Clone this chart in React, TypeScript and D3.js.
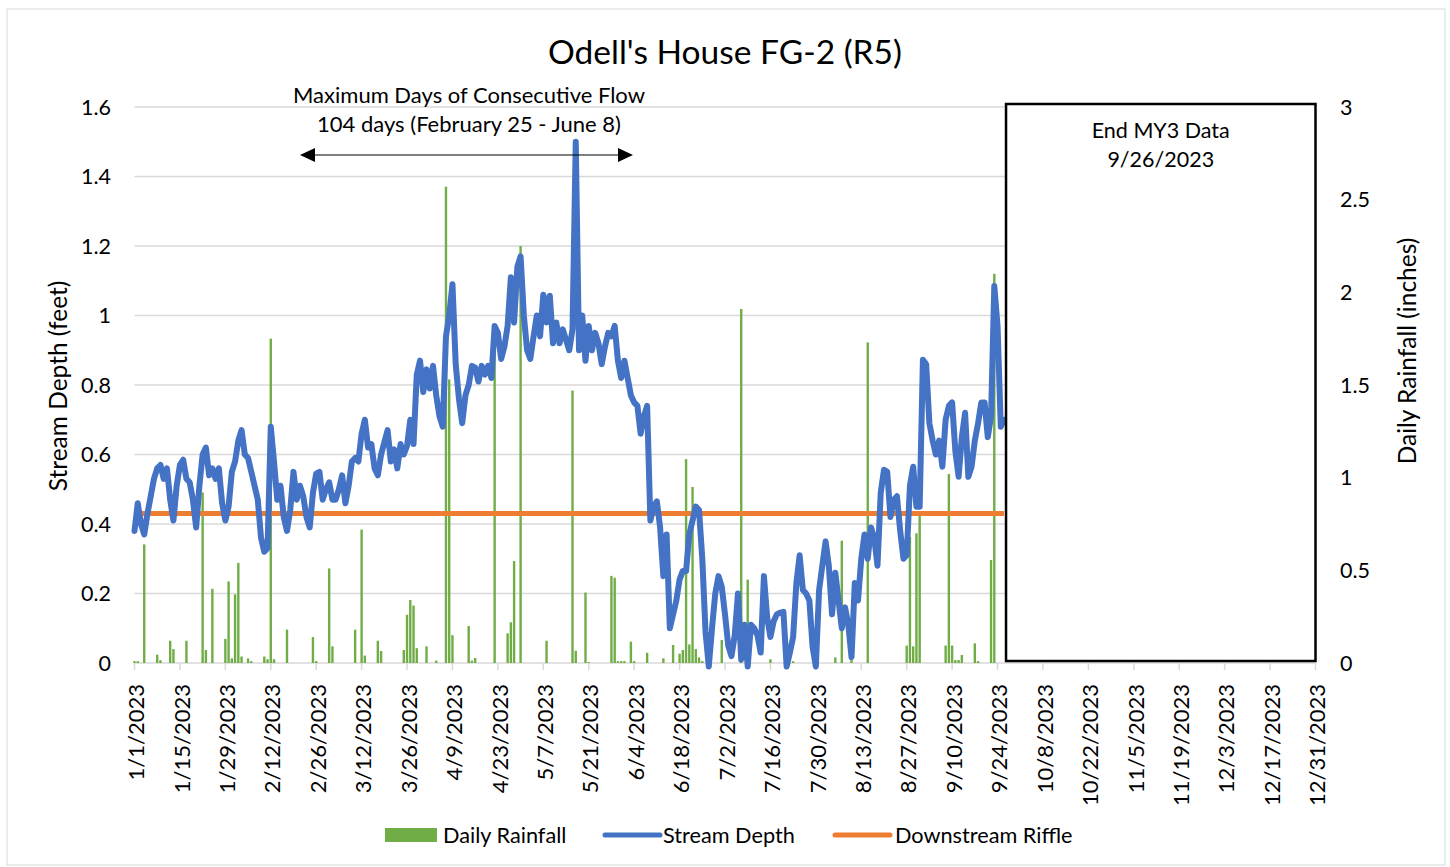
import React from "react";
import * as d3 from "d3";

const TITLE = "Odell's House FG-2 (R5)";
const START = new Date(2023, 0, 1);
const END = new Date(2023, 11, 31);

// Stream depth (feet), daily from 1/1/2023 to 9/26/2023
const streamDepth = [
  0.38,0.46,0.40,0.37,0.43,0.48,0.53,0.56,0.57,0.53,
  0.56,0.47,0.41,0.51,0.57,0.585,0.53,0.52,0.47,0.39,
  0.51,0.60,0.62,0.54,0.56,0.53,0.56,0.46,0.41,0.45,
  0.55,0.58,0.64,0.67,0.60,0.59,0.55,0.51,0.47,0.36,
  0.32,0.33,0.68,0.58,0.47,0.51,0.42,0.38,0.44,0.55,
  0.47,0.51,0.48,0.42,0.39,0.49,0.545,0.55,0.47,0.50,
  0.52,0.47,0.47,0.50,0.54,0.46,0.51,0.58,0.59,0.58,
  0.66,0.70,0.62,0.63,0.56,0.54,0.60,0.635,0.67,0.58,
  0.615,0.56,0.63,0.60,0.625,0.70,0.63,0.83,0.87,0.78,
  0.845,0.79,0.855,0.77,0.71,0.68,0.94,1.00,1.09,0.86,
  0.76,0.69,0.77,0.80,0.855,0.85,0.81,0.855,0.83,0.855,
  0.82,0.97,0.95,0.875,0.91,0.97,1.11,0.98,1.14,1.17,
  1.00,0.90,0.875,0.94,1.00,0.94,1.06,0.98,1.057,0.92,
  0.98,0.92,0.96,0.93,0.90,0.96,1.50,0.90,1.00,0.87,
  0.97,0.90,0.95,0.92,0.86,0.91,0.95,0.94,0.97,0.87,
  0.82,0.87,0.82,0.77,0.75,0.74,0.66,0.71,0.74,0.41,
  0.45,0.465,0.39,0.25,0.37,0.10,0.14,0.18,0.24,0.265,
  0.265,0.37,0.41,0.45,0.44,0.30,0.09,-0.01,0.10,0.20,
  0.25,0.22,0.14,0.05,0.02,0.08,0.20,0.01,0.11,-0.01,
  0.11,0.10,0.08,0.03,0.25,0.13,0.075,0.12,0.14,0.145,
  0.147,-0.01,0.03,0.075,0.23,0.31,0.21,0.20,0.18,0.046,
  -0.01,0.21,0.28,0.35,0.28,0.14,0.26,0.18,0.10,0.16,
  0.11,0.017,0.23,0.18,0.30,0.37,0.30,0.39,0.36,0.28,
  0.49,0.556,0.55,0.42,0.47,0.48,0.38,0.30,0.31,0.51,
  0.565,0.45,0.45,0.873,0.86,0.69,0.64,0.60,0.64,0.565,
  0.70,0.74,0.75,0.61,0.536,0.65,0.72,0.536,0.565,0.64,
  0.69,0.75,0.75,0.65,0.71,1.085,0.97,0.68,0.70,
];

// Daily rainfall (inches): day offset from 1/1/2023 and amount
const rainDay = [
  0,1,3,7,8,11,12,16,21,22,24,28,29,30,31,32,33,35,36,40,41,42,43,47,55,56,60,61,
  68,70,71,75,76,83,84,85,86,87,90,93,96,97,98,103,104,105,111,115,116,117,119,127,
  135,136,139,140,147,148,149,150,151,153,154,158,163,166,168,169,170,171,172,173,174,175,
  181,187,189,196,203,210,216,218,221,226,238,239,240,241,242,250,251,252,253,254,255,259,260,264,265,
];
const rainInches = [
  0.01,0.01,0.64,0.045,0.015,0.12,0.075,0.12,0.92,0.07,0.40,0.13,0.44,0.025,0.37,0.54,0.035,0.025,0.01,0.035,0.02,1.75,0.02,0.18,0.14,0.01,0.51,0.09,
  0.18,0.72,0.04,0.12,0.065,0.07,0.26,0.34,0.31,0.08,0.09,0.013,2.57,1.53,0.15,0.20,0.013,0.027,1.81,0.16,0.22,0.55,2.25,0.12,
  1.47,0.066,0.38,0.005,0.47,0.46,0.01,0.01,0.01,0.115,0.01,0.055,0.025,0.097,0.05,0.07,1.10,0.10,0.95,0.075,0.03,0.01,
  0.124,1.91,0.45,0.02,0.01,0.01,0.03,0.66,0.03,1.73,0.094,0.68,0.09,0.70,0.81,0.094,1.02,0.094,0.016,0.016,0.043,0.106,0.01,0.556,2.10,
];

const riffleDepth = 0.43;
const riffleEndDay = 268;

const leftTicks = [0, 0.2, 0.4, 0.6, 0.8, 1, 1.2, 1.4, 1.6];
const rightTicks = [0, 0.5, 1, 1.5, 2, 2.5, 3];
const xTickStepDays = 14;

const annotationLines = ["Maximum Days of Consecutive Flow", "104 days (February 25 - June 8)"];
const endBoxLines = ["End MY3 Data", "9/26/2023"];
const endDataDate = new Date(2023, 8, 26);

const legendItems = [
  { label: "Daily Rainfall", kind: "bar", color: "#70AD47" },
  { label: "Stream Depth", kind: "line", color: "#4472C4" },
  { label: "Downstream Riffle", kind: "line", color: "#ED7D31" },
];

const FONT = "Lato, 'Open Sans', sans-serif";

export default function App() {
  const W = 1450, H = 867;
  const left = 134.5, right = 1315.5, top = 107, bottom = 663;

  const x = d3.scaleTime().domain([START, END]).range([left, right]);
  const yL = d3.scaleLinear().domain([0, 1.6]).range([bottom, top]);
  const yR = d3.scaleLinear().domain([0, 3]).range([bottom, top]);

  const dayDate = (i: number) => d3.timeDay.offset(START, i);

  const depthPts = streamDepth.map((v, i) => ({ d: dayDate(i), v }));
  const line = d3
    .line<{ d: Date; v: number }>()
    .x((p) => x(p.d))
    .y((p) => yL(p.v));

  const xTicks = d3.range(0, 365, xTickStepDays).map(dayDate);
  const fmt = (d: Date) => `${d.getMonth() + 1}/${d.getDate()}/${d.getFullYear()}`;

  const barW = 2.4;
  const boxX1 = x(endDataDate) + 2;

  const arrowY = 155, arrowX1 = 300, arrowX2 = 633;

  return (
    <svg width={W} height={H} style={{ position: "absolute", left: 0, top: 0, background: "#fff" }} fontFamily={FONT}>
      <rect x={7} y={9} width={1438} height={856} fill="#fff" stroke="#D9D9D9" strokeWidth={1} />
      {/* gridlines */}
      {leftTicks.map((t) => (
        <line key={"g" + t} x1={left} x2={right} y1={yL(t)} y2={yL(t)} stroke="#D9D9D9" strokeWidth={1.5} />
      ))}
      {/* x ticks */}
      {xTicks.map((d, i) => (
        <line key={"xt" + i} x1={x(d)} x2={x(d)} y1={bottom} y2={bottom + 7} stroke="#D9D9D9" strokeWidth={1.5} />
      ))}
      {/* rainfall bars */}
      {rainDay.map((dd, i) => (
        <rect
          key={"r" + i}
          x={x(dayDate(dd)) - barW / 2}
          y={yR(rainInches[i])}
          width={barW}
          height={bottom - yR(rainInches[i])}
          fill="#70AD47"
        />
      ))}
      {/* riffle line */}
      <line
        x1={x(START)}
        x2={x(dayDate(riffleEndDay))}
        y1={yL(riffleDepth)}
        y2={yL(riffleDepth)}
        stroke="#ED7D31"
        strokeWidth={5}
      />
      {/* stream depth */}
      <path d={line(depthPts) || ""} fill="none" stroke="#4472C4" strokeWidth={6} strokeLinejoin="round" strokeLinecap="round" />
      {/* end box */}
      <rect x={boxX1} y={104} width={right - boxX1} height={661 - 104} fill="#fff" stroke="#000" strokeWidth={2.5} />
      {endBoxLines.map((t, i) => (
        <text key={"eb" + i} x={(boxX1 + right) / 2} y={138 + i * 29} textAnchor="middle" fontSize={21.5} fill="#000">
          {t}
        </text>
      ))}
      {/* annotation */}
      {annotationLines.map((t, i) => (
        <text key={"an" + i} x={469} y={103 + i * 29} textAnchor="middle" fontSize={22} fill="#000">
          {t}
        </text>
      ))}
      <line x1={arrowX1 + 12} x2={arrowX2 - 12} y1={arrowY} y2={arrowY} stroke="#000" strokeWidth={1.2} />
      <path d={`M${arrowX1},${arrowY} L${arrowX1 + 15},${arrowY - 7} L${arrowX1 + 15},${arrowY + 7} Z`} fill="#000" />
      <path d={`M${arrowX2},${arrowY} L${arrowX2 - 15},${arrowY - 7} L${arrowX2 - 15},${arrowY + 7} Z`} fill="#000" />
      {/* title */}
      <text x={725} y={64} textAnchor="middle" fontSize={33.5} fill="#000">
        {TITLE}
      </text>
      {/* left axis labels */}
      {leftTicks.map((t) => (
        <text key={"lt" + t} x={111} y={yL(t)} dy="0.35em" textAnchor="end" fontSize={21.5} fill="#000">
          {String(t)}
        </text>
      ))}
      {/* right axis labels */}
      {rightTicks.map((t) => (
        <text key={"rt" + t} x={1340} y={yR(t)} dy="0.35em" textAnchor="start" fontSize={21.5} fill="#000">
          {String(t)}
        </text>
      ))}
      {/* x labels */}
      {xTicks.map((d, i) => (
        <text
          key={"xl" + i}
          transform={`translate(${x(d) + 2},${684}) rotate(-90)`}
          textAnchor="end"
          dy="0.35em"
          fontSize={22}
          fill="#000"
        >
          {fmt(d)}
        </text>
      ))}
      {/* axis titles */}
      <text transform={`translate(58,386) rotate(-90)`} textAnchor="middle" dy="0.35em" fontSize={24.5} fill="#000">
        Stream Depth (feet)
      </text>
      <text transform={`translate(1407,351) rotate(-90)`} textAnchor="middle" dy="0.35em" fontSize={24.5} fill="#000">
        Daily Rainfall (inches)
      </text>
      {/* legend */}
      <g>
        <rect x={385} y={828} width={52} height={14} fill={legendItems[0].color} />
        <text x={443} y={835} dy="0.35em" fontSize={21.7} fill="#000">{legendItems[0].label}</text>
        <line x1={605} x2={660} y1={835} y2={835} stroke={legendItems[1].color} strokeWidth={5} strokeLinecap="round" />
        <text x={663} y={835} dy="0.35em" fontSize={21.7} fill="#000">{legendItems[1].label}</text>
        <line x1={835} x2={890} y1={835} y2={835} stroke={legendItems[2].color} strokeWidth={5} strokeLinecap="round" />
        <text x={895} y={835} dy="0.35em" fontSize={21.7} fill="#000">{legendItems[2].label}</text>
      </g>
    </svg>
  );
}
